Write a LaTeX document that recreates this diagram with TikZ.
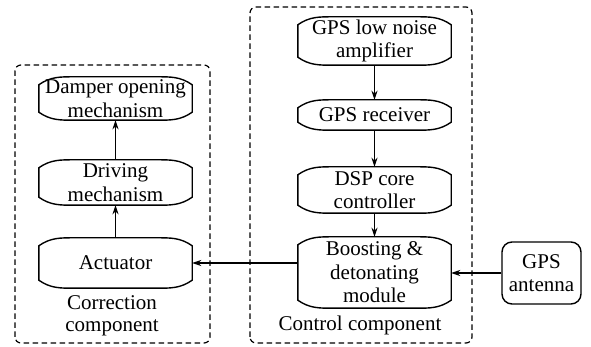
\documentclass[tikz,border=0pt]{standalone}
\usepackage{fontspec}
\setmainfont{Liberation Serif}
\newfontfamily\timesfont{Liberation Serif}
\usetikzlibrary{calc,arrows.meta}
\tikzset{
  box/.style={minimum width=153pt, inner sep=0pt, align=center, font=\timesfont\fontsize{21}{23.5}\selectfont},
  boxline/.style={line width=1.4pt},
  arr/.style={line width=1.4pt, -{Stealth[length=9pt,width=6pt]}},
  group/.style={line width=1.2pt, rounded corners=6pt, dash pattern=on 5.5pt off 3.5pt},
  lbl/.style={inner sep=0pt, align=center, font=\timesfont\fontsize{21}{22}\selectfont},
  ant/.style={draw, line width=1.4pt, rounded corners=10pt, inner sep=0pt, align=center,
    minimum width=79pt, minimum height=62pt, font=\timesfont\fontsize{21}{23.5}\selectfont}
}
\newcommand\bulgebox[1]{%
  \draw[boxline]
    ($(#1.south west)+(0,8pt)$) -- ($(#1.north west)+(0,-8pt)$)
    to[out=35,in=180] ($(#1.north west)+(36pt,0)$)
    -- ($(#1.north east)+(-36pt,0)$)
    to[out=0,in=145] ($(#1.north east)+(0,-8pt)$)
    -- ($(#1.south east)+(0,8pt)$)
    to[out=-145,in=0] ($(#1.south east)+(-36pt,0)$)
    -- ($(#1.south west)+(36pt,0)$)
    to[out=180,in=-35] ($(#1.south west)+(0,8pt)$) -- cycle;}
\begin{document}
\begin{tikzpicture}[x=1pt,y=1pt]
\useasboundingbox (0,0) rectangle (591,347);
% groups
\draw[group] (15,4) rectangle (210,282);
\draw[group] (250,4) rectangle (472,340);
% left column
\node[box, minimum height=43pt] (damp) at (115.5,248.5) {Damper opening\\mechanism};
\node[box, minimum height=45pt] (drive) at (115.5,164.5) {Driving\\mechanism};
\node[box, minimum height=50pt] (act) at (115.5,84) {Actuator};
% right column
\node[box, minimum height=48pt] (lna) at (374.5,306) {GPS low noise\\amplifier};
\node[box, minimum height=30pt] (rcv) at (374.5,232) {GPS receiver};
\node[box, minimum height=46pt] (dsp) at (374.5,157) {DSP core\\controller};
\node[box, minimum height=71pt] (boost) at (374.5,74.5) {Boosting \&\\detonating\\module};
\node[ant] (antn) at (541.5,74) {GPS\\antenna};
\foreach \n in {damp,drive,act,lna,rcv,dsp,boost} {\bulgebox{\n}}
% labels
\node[lbl] (corr) at (112,31) {Correction\\component};
\node[lbl] (ctrl) at (360,22) {Control component};
% arrows
\draw[arr] (act.north) -- (drive.south);
\draw[arr] (drive.north) -- (damp.south);
\draw[arr] (lna.south) -- (rcv.north);
\draw[arr] (rcv.south) -- (dsp.north);
\draw[arr] (dsp.south) -- (boost.north);
\draw[arr] (antn.west) -- (boost.east |- antn.west);
\draw[arr] (boost.west |- act.east) -- (act.east);
\end{tikzpicture}
\end{document}
